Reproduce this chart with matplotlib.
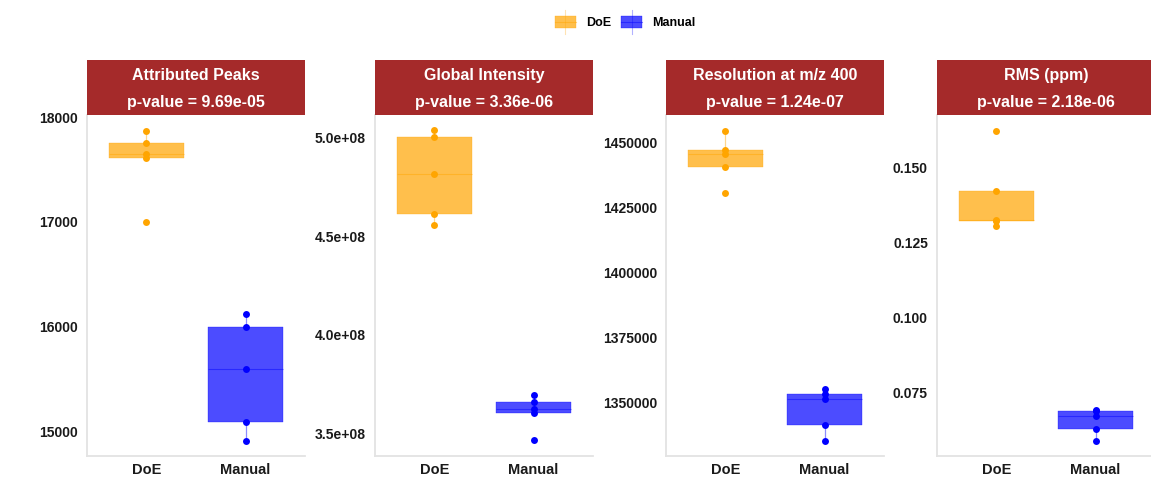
import matplotlib
matplotlib.use("Agg")
import matplotlib.pyplot as plt
from matplotlib.patches import Rectangle, Patch
from matplotlib.lines import Line2D
from matplotlib.legend_handler import HandlerBase
import numpy as np

plt.rcParams['font.family'] = ['Liberation Sans', 'DejaVu Sans']

# ---------------- data ----------------
categories = ["DoE", "Manual"]
titles = ["Attributed Peaks", "Global Intensity", "Resolution at m/z 400", "RMS (ppm)"]
pvalues = ["9.69e-05", "3.36e-06", "1.24e-07", "2.18e-06"]

peaks_doe = [17873, 17756, 17651, 17613, 17000]
peaks_manual = [16121, 16000, 15594, 15086, 14914]
intensity_doe = [5.034e8, 5.003e8, 4.815e8, 4.613e8, 4.554e8]
intensity_manual = [3.695e8, 3.662e8, 3.623e8, 3.603e8, 3.465e8]
resolution_doe = [1454500, 1446900, 1445500, 1440400, 1430400]
resolution_manual = [1355150, 1353230, 1351310, 1341040, 1335270]
rms_doe = [0.1622, 0.1420, 0.1325, 0.1322, 0.1305]
rms_manual = [0.0693, 0.0690, 0.0672, 0.0630, 0.0591]

yticks_peaks = [15000, 16000, 17000, 18000]
yticks_intensity = [3.5e8, 4.0e8, 4.5e8, 5.0e8]
yticks_resolution = [1350000, 1375000, 1400000, 1425000, 1450000]
yticks_rms = [0.075, 0.100, 0.125, 0.150]

panels = [
    (peaks_doe, peaks_manual, yticks_peaks, lambda v: f"{v:.0f}"),
    (intensity_doe, intensity_manual, yticks_intensity, lambda v: f"{v:.1e}"),
    (resolution_doe, resolution_manual, yticks_resolution, lambda v: f"{v:.0f}"),
    (rms_doe, rms_manual, yticks_rms, lambda v: f"{v:.3f}"),
]

colors = ["#FFA500", "#0000FF"]
ALPHA = 0.7
STRIP = "#A52A2A"
AXCOL = "#E3E3E3"

W, H = 1151, 495
fig = plt.figure(figsize=(W / 100, H / 100), dpi=100)

lefts = [87, 375, 666, 937]
pw = 218
ax_top, ax_bot = 115, 456
strip_top = 60

for i, (doe, man, yt, fmt) in enumerate(panels):
    x0 = lefts[i]
    ax = fig.add_axes([x0 / W, 1 - ax_bot / H, pw / W, (ax_bot - ax_top) / H])
    groups = [doe, man]
    bp = ax.boxplot(groups, positions=[1, 2], widths=0.75, patch_artist=True,
                    showfliers=False, whis=1.5, showcaps=False)
    for j, c in enumerate(colors):
        box = bp['boxes'][j]
        box.set_facecolor(c)
        box.set_alpha(ALPHA)
        box.set_edgecolor(c)
        box.set_linewidth(0.3)
        med = bp['medians'][j]
        med.set_color(c)
        med.set_alpha(0.45)
        med.set_linewidth(0.8)
        for w in bp['whiskers'][2 * j:2 * j + 2]:
            w.set_color(c)
            w.set_alpha(0.45)
            w.set_linewidth(0.9)
        ax.plot([j + 1] * len(groups[j]), groups[j], 'o', color=c,
                markersize=5, markeredgewidth=0, zorder=5)
    allv = np.array(doe + man)
    lo, hi = allv.min(), allv.max()
    pad = (hi - lo) * 0.05
    ax.set_ylim(lo - pad, hi + pad)
    ax.set_xlim(0.4, 2.6)
    ax.set_xticks([1, 2])
    ax.set_xticklabels(categories, fontsize=10.5, fontweight='bold')
    ax.set_yticks(yt)
    ax.set_yticklabels([fmt(v) for v in yt], fontsize=10, fontweight='bold')
    ax.tick_params(axis='both', length=0, colors='#1a1a1a')
    ax.tick_params(axis='y', pad=6.5)
    ax.tick_params(axis='x', pad=5)
    for s in ['top', 'right']:
        ax.spines[s].set_visible(False)
    for s in ['left', 'bottom']:
        ax.spines[s].set_color(AXCOL)
        ax.spines[s].set_linewidth(1.3)
    ax.set_facecolor('white')

    sax = fig.add_axes([x0 / W, 1 - ax_top / H, pw / W, (ax_top - strip_top) / H])
    sax.set_facecolor(STRIP)
    sax.set_xticks([])
    sax.set_yticks([])
    for s in sax.spines.values():
        s.set_visible(False)
    sax.text(0.5, 1 - 15.7 / 55, titles[i], color='white', fontsize=11.5,
             fontweight='bold', ha='center', va='center', transform=sax.transAxes)
    sax.text(0.5, 1 - 42.3 / 55, f"p-value = {pvalues[i]}", color='white',
             fontsize=11.5, fontweight='bold', ha='center', va='center',
             transform=sax.transAxes)


class BoxKeyHandler(HandlerBase):
    def create_artists(self, legend, orig_handle, xdescent, ydescent,
                       width, height, fontsize, trans):
        c = orig_handle.get_facecolor()
        x = -xdescent
        y = -ydescent
        bh = height * 0.6
        by = y + (height - bh) / 2
        vline = Line2D([x + width / 2] * 2, [y - height * 0.1, y + height * 1.1],
                       color=c, alpha=0.3, lw=0.8, transform=trans)
        rect = Rectangle((x, by), width, bh, facecolor=c, alpha=ALPHA,
                         edgecolor=c, lw=0.3, transform=trans)
        hline = Line2D([x, x + width], [y + height / 2] * 2, color=c, alpha=0.45,
                       lw=0.8, transform=trans)
        return [vline, rect, hline]


handles = [Patch(facecolor=c) for c in colors]
leg = fig.legend(handles, categories, loc='center',
                 bbox_to_anchor=(625 / W, 1 - 22 / H), ncol=2, frameon=False,
                 handler_map={Patch: BoxKeyHandler()},
                 prop={'weight': 'bold', 'size': 9},
                 handlelength=1.7, handleheight=2.0, handletextpad=0.8,
                 columnspacing=0.8)

fig.savefig("out.png", dpi=100, facecolor='white')
